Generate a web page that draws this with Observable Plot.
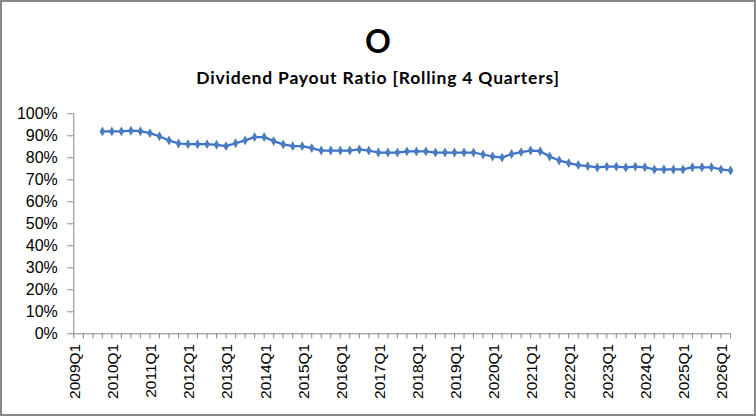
<!DOCTYPE html>
<html>
<head>
<meta charset="utf-8">
<script src="https://cdn.jsdelivr.net/npm/d3@7"></script>
<script src="https://cdn.jsdelivr.net/npm/@observablehq/plot@0.6"></script>
<style>
  html, body { margin: 0; padding: 0; background: #fff; }
  #chart { position: relative; width: 756px; height: 416px; box-sizing: border-box; border: 2px solid #888; background: #fff; overflow: hidden; }
  #titles { position: relative; height: 96px; }
  #title { position: absolute; left: 0; right: 0; top: 19px; height: 40px; line-height: 40px; text-align: center; font-family: Lato, "Open Sans", sans-serif; font-weight: bold; font-size: 32px; color: #000; }
  #subtitle { position: absolute; left: 0; right: 0; top: 64px; height: 24px; line-height: 24px; text-align: center; font-family: Lato, "Open Sans", sans-serif; font-weight: bold; font-size: 17.5px; letter-spacing: 0.8px; color: #000; }
  svg { display: block; }
</style>
</head>
<body>
<div id="chart">
  <div id="titles">
    <div id="title">O</div>
    <div id="subtitle">Dividend Payout Ratio [Rolling 4 Quarters]</div>
  </div>
</div>
<script>
// Category axis: every quarter from 2009Q1 to 2026Q1
const quarters = [
  "2009Q1","2009Q2","2009Q3","2009Q4","2010Q1","2010Q2","2010Q3","2010Q4",
  "2011Q1","2011Q2","2011Q3","2011Q4","2012Q1","2012Q2","2012Q3","2012Q4",
  "2013Q1","2013Q2","2013Q3","2013Q4","2014Q1","2014Q2","2014Q3","2014Q4",
  "2015Q1","2015Q2","2015Q3","2015Q4","2016Q1","2016Q2","2016Q3","2016Q4",
  "2017Q1","2017Q2","2017Q3","2017Q4","2018Q1","2018Q2","2018Q3","2018Q4",
  "2019Q1","2019Q2","2019Q3","2019Q4","2020Q1","2020Q2","2020Q3","2020Q4",
  "2021Q1","2021Q2","2021Q3","2021Q4","2022Q1","2022Q2","2022Q3","2022Q4",
  "2023Q1","2023Q2","2023Q3","2023Q4","2024Q1","2024Q2","2024Q3","2024Q4",
  "2025Q1","2025Q2","2025Q3","2025Q4","2026Q1"
];

// Labelled ticks (every Q1)
const tickLabels = ["2009Q1","2010Q1","2011Q1","2012Q1","2013Q1","2014Q1","2015Q1","2016Q1","2017Q1",
  "2018Q1","2019Q1","2020Q1","2021Q1","2022Q1","2023Q1","2024Q1","2025Q1","2026Q1"];

// Y tick values
const yTicks = [0, 0.1, 0.2, 0.3, 0.4, 0.5, 0.6, 0.7, 0.8, 0.9, 1.0];

// Series: quarters with data (2009Q3 .. 2026Q1), plotted at quarter end
const payoutQuarters = quarters.slice(2);

// Dividend payout ratio (rolling 4 quarters)
const payoutRatio = [
  0.920, 0.920, 0.920, 0.923, 0.921, 0.912, 0.898, 0.879, 0.865, 0.862, 0.862,
  0.862, 0.859, 0.853, 0.866, 0.879, 0.894, 0.894, 0.876, 0.861, 0.853, 0.853,
  0.844, 0.833, 0.833, 0.833, 0.833, 0.838, 0.833, 0.824, 0.824, 0.824, 0.829,
  0.829, 0.829, 0.824, 0.824, 0.824, 0.824, 0.824, 0.815, 0.806, 0.801, 0.817,
  0.826, 0.833, 0.830, 0.806, 0.788, 0.776, 0.767, 0.762, 0.756, 0.760, 0.760,
  0.756, 0.760, 0.757, 0.747, 0.747, 0.747, 0.747, 0.757, 0.757, 0.757, 0.747,
  0.742
];

const data = payoutQuarters.map((q, i) => ({ pos: quarters.indexOf(q) + 1, value: payoutRatio[i] }));
const tickPositions = d3.range(0, quarters.length + 1);
const labelOffset = 0.15;
const labelPositions = tickLabels.map(q => quarters.indexOf(q) + labelOffset);
const axisGray = "#868686";

const chart = Plot.plot({
  width: 752,
  height: 316,
  marginTop: 15.3,
  marginBottom: 80.7,
  marginLeft: 71.3,
  marginRight: 24,
  style: { fontFamily: "Arial, Liberation Sans, sans-serif", fontSize: "16px", color: "#000", background: "#fff" },
  x: { type: "linear", domain: [0, quarters.length], axis: null, label: null },
  y: { domain: [0, 1], axis: null, label: null },
  marks: [
    Plot.axisY({ ticks: yTicks, tickFormat: d3.format(".0%"), tickSize: 6, tickPadding: 10, stroke: axisGray, fontSize: 16, label: null }),
    Plot.axisX({ ticks: tickPositions, tickSize: 5, tickFormat: () => "", stroke: axisGray, label: null }),
    Plot.axisX({ ticks: labelPositions, tickSize: 0, tickPadding: 10, tickRotate: -90,
      tickFormat: d => quarters[Math.round(d - labelOffset)], fontSize: 15.5, label: null }),
    Plot.ruleX([0], { stroke: axisGray }),
    Plot.ruleY([0], { stroke: axisGray }),
    Plot.line(data, { x: "pos", y: "value", stroke: "#3D6FD3", strokeWidth: 2.25 }),
    Plot.dot(data, { x: "pos", y: "value", symbol: "diamond", r: 3, fill: "#4A7EBB", stroke: "none" })
  ]
});

document.getElementById("chart").appendChild(chart);
</script>
</body>
</html>
